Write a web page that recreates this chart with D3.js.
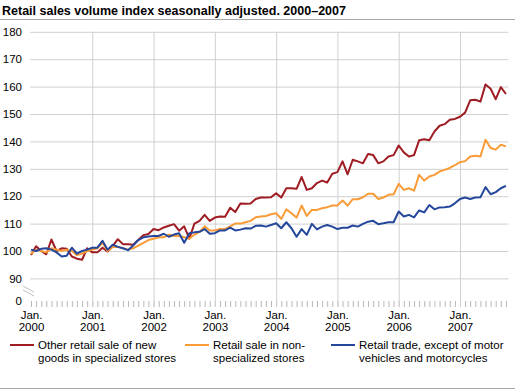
<!DOCTYPE html>
<html><head><meta charset="utf-8">
<script src="https://cdn.jsdelivr.net/npm/d3@7"></script>
<style>
body{margin:0;background:#fff;}
svg{font-family:Arial,"Liberation Sans",sans-serif;}
</style></head><body>
<svg id="c" width="515" height="391"></svg>
<script>
const title = "Retail sales volume index seasonally adjusted. 2000\u20132007";
const years = ["2000","2001","2002","2003","2004","2005","2006","2007"];
const yTicks = [90,100,110,120,130,140,150,160,170,180];
const seriesNames = [
  ["Other retail sale of new","goods in specialized stores"],
  ["Retail sale in non-","specialized stores"],
  ["Retail trade, except of motor","vehicles and motorcycles"]
];
const colors = ["#9e1c22","#f99b36","#24479b"];
// Monthly values, Jan 2000 – Oct 2007
const otherSpecialized = [
 98.5,101.7,100,98.8,104.2,100,101,100.8,98,97.2,96.8,101,
 99.5,99.5,101.2,99.8,101.8,104.3,102.5,102.5,102.3,104,105.8,106.2,
 108,107.6,108.6,109.2,109.8,107.4,109,104.5,110,111,113.2,111,
 112.2,112.6,112.5,115.8,114.2,117.3,117.2,117.3,119,119.5,119.5,119.6,
 121.1,119.5,122.9,122.9,122.7,127,122.3,122.9,124.8,125.7,125,128.2,
 128.8,132.7,128,133.3,132.7,132,135.4,135,132,132.7,134.5,135,
 138.5,136,134.5,135,140.4,140.8,140.4,143.6,145.7,146.3,147.9,148.2,
 149,150.5,155,155.2,154.5,160.8,159.2,155.4,159.8,157.3];
const nonSpecialized = [
 99,100.5,100,99.5,101,100.5,100,100.5,100,98.5,99,100,
 100.5,101,103,100,101.5,101.5,101,100.5,101,102,103,104,
 104.5,105,105,106,105.5,105.5,105,104.5,106,107,109,107.5,
 107.5,108,108,109,110,110,110.5,111,112.3,112.6,112.8,113.4,
 113.8,111.7,115.2,113.8,112.2,116.6,112.8,115,115,115.6,116,116.6,
 116.6,118.4,116.6,118.9,118.9,119.6,120.9,120.9,119,119.5,120.5,120.7,
 124.5,122.3,122.9,122,127.8,125.7,127.2,127.8,129,129.6,130.3,131.3,
 132.4,132.8,134.5,134.8,134.5,140.6,137.6,137,138.8,138.2];
const retailTrade = [
 100.5,100,100.8,101,100.5,99.5,98,98.3,101.2,99,100,100.5,
 101.2,101.2,103.7,100.5,102.3,101.5,101,100.3,102,104,105,105.3,
 105.5,105.5,106.3,105.2,106,106.5,103,106.5,106.8,107,108,106.3,
 106.5,107.5,107.5,108.5,107.5,107.8,108.3,108.2,109.2,109.3,108.9,109.5,
 110.1,108.3,110.5,108.3,105.2,108,105.9,109.9,107.9,108.9,109.5,108.9,
 108,108.5,108.5,109.3,108.9,109.9,110.7,111,109.8,110.1,110.5,110.5,
 114.4,112.6,113.2,112.3,114.8,114.1,116.8,115.2,115.9,116,116.2,117.4,
 119,119.5,119,119.5,119.6,123.3,120.7,121.5,122.9,123.8];
const series = [otherSpecialized, nonSpecialized, retailTrade];

const svg = d3.select("#c");
const W = 515;
const x = d3.scaleLinear().domain([0, 93.5]).range([31, 508.5]);
const y = d3.scaleLinear().domain([90, 180]).range([278.4, 31.8]);
const plotL = 30, plotR = 508.5, zeroY = 301;

// title
svg.append("text").attr("x",2).attr("y",15).attr("font-size",12.5).attr("font-weight","bold").attr("fill","#000").text(title);
svg.append("line").attr("x1",0).attr("x2",W).attr("y1",19.5).attr("y2",19.5).attr("stroke","#a8a8a8").attr("stroke-width",1);
svg.append("line").attr("x1",0).attr("x2",W).attr("y1",388.5).attr("y2",388.5).attr("stroke","#a8a8a8").attr("stroke-width",1);

// horizontal grid + y labels
const yAxis = d3.axisLeft(y).tickValues(yTicks).tickSize(-(plotR-plotL)).tickPadding(8).tickFormat(d3.format("d"));
const gy = svg.append("g").attr("transform",`translate(${plotL},0)`).call(yAxis);
gy.select(".domain").remove();
gy.selectAll("line").attr("stroke","#d0d0d0");
gy.selectAll("text").attr("font-size",11.5).attr("fill","#000").attr("font-family","Arial,'Liberation Sans',sans-serif").attr("x",-8);
svg.append("text").attr("x",22).attr("y",zeroY).attr("dy","0.35em").attr("text-anchor","end").attr("font-size",11.5).text("0");

// month ticks
const months = d3.range(0, 94);
const gm = svg.append("g").attr("transform",`translate(0,${zeroY})`)
  .call(d3.axisBottom(x).tickValues(months).tickSize(6).tickFormat(""));
gm.select(".domain").remove();
gm.selectAll("line").attr("stroke","#b8b8b8");

// year gridlines + labels
const yearIdx = years.map((d,i)=>i*12);
const gYear = svg.append("g").attr("transform",`translate(0,${zeroY+6})`)
  .call(d3.axisBottom(x).tickValues(yearIdx).tickSize(-(zeroY+6-31.8)).tickPadding(5).tickFormat(""));
gYear.select(".domain").remove();
gYear.selectAll("line").attr("stroke",(d)=>d===0?"none":"#d0d0d0");
gYear.selectAll(".tick").each(function(d,i){
  const t = d3.select(this).append("text").attr("fill","#000").attr("font-size",11.5).attr("text-anchor","middle").attr("y",12);
  t.append("tspan").attr("x",0).text("Jan.");
  t.append("tspan").attr("x",0).attr("dy",12).text(years[i]);
});

// axis break marks
[0,4].forEach(o=>{
  svg.append("line").attr("x1",23).attr("y1",286+o).attr("x2",34).attr("y2",292+o).attr("stroke","#c0c0c0").attr("stroke-width",1);
});

// lines
const line = d3.line().x((d,i)=>x(i)).y(d=>y(d));
series.forEach((s,k)=>{
  svg.append("path").datum(s).attr("d",line).attr("fill","none").attr("stroke",colors[k]).attr("stroke-width",2).attr("stroke-linejoin","round");
});

// legend
const legX = [10,185,331];
seriesNames.forEach((names,k)=>{
  const g = svg.append("g").attr("transform",`translate(${legX[k]},0)`);
  g.append("line").attr("x1",0).attr("x2",24).attr("y1",345).attr("y2",345).attr("stroke",colors[k]).attr("stroke-width",2);
  const t = g.append("text").attr("font-size",11.5).attr("fill","#000");
  names.forEach((n,j)=>t.append("tspan").attr("x",28).attr("y",349+j*13).text(n));
});
</script></body></html>
